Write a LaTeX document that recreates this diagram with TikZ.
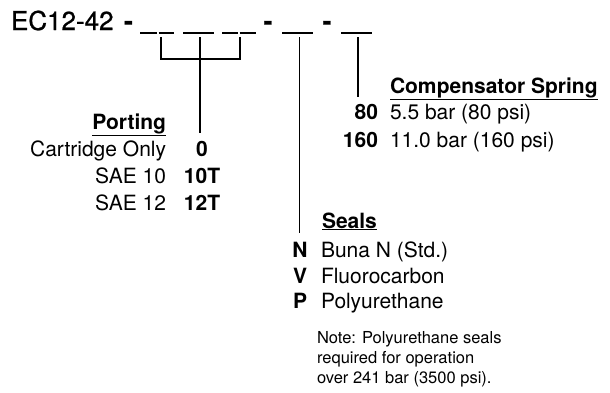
\documentclass[tikz,border=0pt]{standalone}
\usepackage{fontspec}
\setmainfont{TeX Gyre Heros}
\newfontfamily\titlefont[FakeBold=0.9]{TeX Gyre Heros}
\begin{document}
\begin{tikzpicture}[x=1pt,y=-1pt,
  base/.style={inner sep=0pt, outer sep=0pt},
  big/.style={base, font=\titlefont\fontsize{26}{30}\selectfont},
  lbl/.style={base, font=\fontsize{21}{25}\selectfont},
  code/.style={base, font=\fontsize{21}{25}\selectfont\bfseries},
  note/.style={base, font=\fontsize{16.5}{20}\selectfont, anchor=base west},
  blank/.style={line width=1.3pt},
  conn/.style={line width=1.3pt}]
\useasboundingbox (0,0) rectangle (610,392);

% title and separators
\node[big, anchor=base west] (title) at (11,30) {EC12-42};
\node[big, anchor=base] (d0) at (128.5,30) {\bfseries -};
\node[big, anchor=base] (d1) at (268,30) {\bfseries -};
\node[big, anchor=base] (d2) at (327,30) {\bfseries -};

% blanks
\coordinate (u1a) at (140,33); \coordinate (u1b) at (157,33);
\coordinate (u1c) at (158.5,33); \coordinate (u1d) at (174,33);
\coordinate (u2a) at (183,33); \coordinate (u2b) at (214,33);
\coordinate (u3a) at (222,33); \coordinate (u3b) at (238,33);
\coordinate (u3c) at (239.5,33); \coordinate (u3d) at (256,33);
\coordinate (u4a) at (282,33); \coordinate (u4b) at (313,33);
\coordinate (u5a) at (341,33); \coordinate (u5b) at (372,33);
\draw[blank] (u1a) -- (u1b) (u1c) -- (u1d) (u2a) -- (u2b)
  (u3a) -- (u3b) (u3c) -- (u3d) (u4a) -- (u4b) (u5a) -- (u5b);

% connector points
\coordinate (c1) at (161,37);
\coordinate (c2) at (200,37);
\coordinate (c3) at (240,37);
\coordinate (cj) at (200,59);
\coordinate (cs) at (299.5,37);
\coordinate (cc) at (358,37);
\coordinate (pe) at (200,133);
\coordinate (se) at (299.5,233);
\coordinate (ce) at (358,97);

\draw[conn] (c1) |- (cj) -| (c3);
\draw[conn] (c2) -- (pe);
\draw[conn] (cs) -- (se);
\draw[conn] (cc) -- (ce);

% Porting
\node[lbl, anchor=base east] (porting) at (166,129) {\underline{\textbf{Porting}}};
\node[lbl, anchor=base east] (p1) at (166,156) {Cartridge Only};
\node[lbl, anchor=base east] (p2) at (166,183) {SAE 10};
\node[lbl, anchor=base east] (p3) at (166,210) {SAE 12};
\node[code, anchor=base] (pc1) at (202,156) {0};
\node[code, anchor=base] (pc2) at (202,183) {10T};
\node[code, anchor=base] (pc3) at (202,210) {12T};

% Compensator spring
\node[lbl, anchor=base west] (comp) at (390,93) {\underline{\textbf{Compensator Spring}}};
\node[code, anchor=base east] (cc1) at (378,119) {80};
\node[code, anchor=base east] (cc2) at (378,147) {160};
\node[lbl, anchor=base west] (ct1) at (390,119) {5.5 bar (80 psi)};
\node[lbl, anchor=base west] (ct2) at (390,147) {11.0 bar (160 psi)};

% Seals
\node[lbl, anchor=base west] (seals) at (322,228) {\underline{\textbf{Seals}}};
\node[code, anchor=base] (sc1) at (300,257) {N};
\node[code, anchor=base] (sc2) at (300,283) {V};
\node[code, anchor=base] (sc3) at (300,308) {P};
\node[lbl, anchor=base west] (st1) at (321,257) {Buna N (Std.)};
\node[lbl, anchor=base west] (st2) at (321,283) {Fluorocarbon};
\node[lbl, anchor=base west] (st3) at (321,308) {Polyurethane};

% Note
\node[note] (n1) at (317,343) {Note: Polyurethane seals};
\node[note] (n2) at (317,363) {required for operation};
\node[note] (n3) at (317,383) {over 241 bar (3500 psi).};
\end{tikzpicture}
\end{document}
